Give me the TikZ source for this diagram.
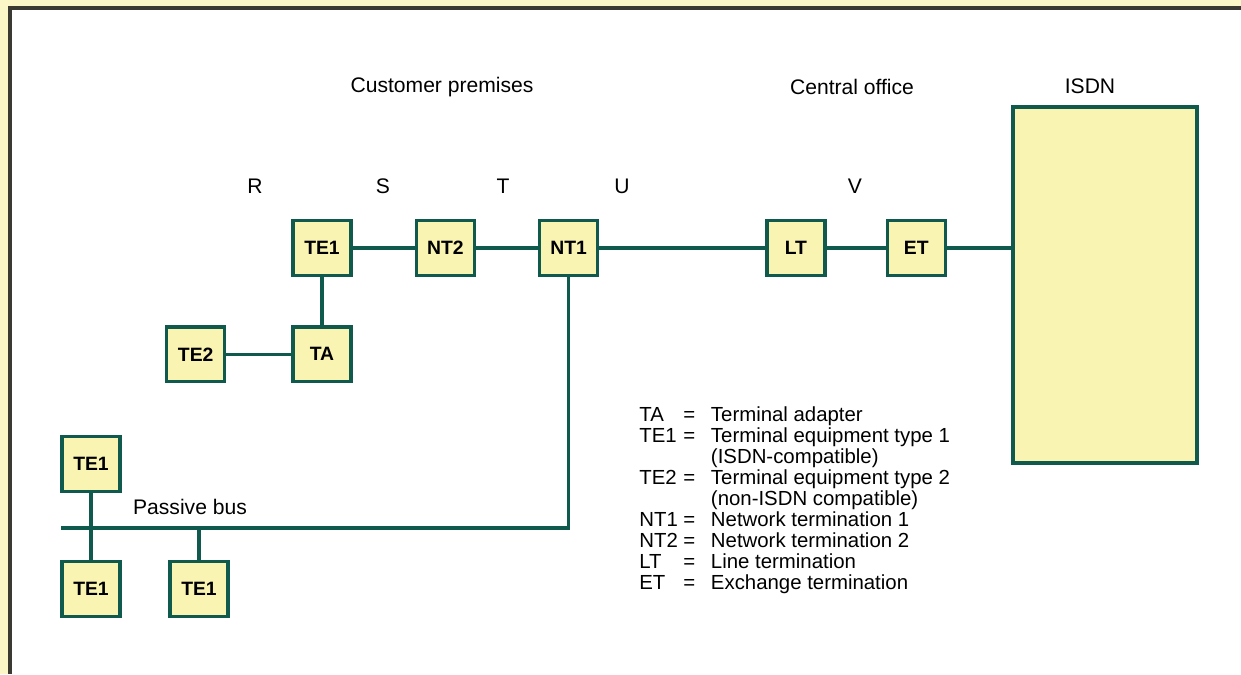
\documentclass[tikz,border=0pt]{standalone}
\usepackage{fontspec}
\setmainfont{Liberation Sans}
\usetikzlibrary{positioning}
\definecolor{pagebg}{HTML}{FBF7C6}
\definecolor{boxfill}{HTML}{FAF4B2}
\definecolor{linegreen}{HTML}{10594D}
\definecolor{framegrey}{HTML}{3A3A32}
\tikzstyle{unit} = [rectangle, draw=linegreen, line width=1.9pt, fill=boxfill, minimum width=1.16cm, minimum height=1.1cm, inner sep=0pt, font=\fontsize{11}{13}\selectfont\bfseries]
\tikzstyle{link} = [draw=linegreen, line width=1.9pt]
\tikzstyle{refpt} = [font=\fontsize{12}{14}\selectfont]

\begin{document}
\begin{tikzpicture}[x=0.02cm, y=-0.02cm, node distance=1.24cm]
\useasboundingbox (0,0) rectangle (1241,674);
\fill[pagebg] (0,0) rectangle (1241,674);
\fill[white] (10,8) rectangle (1241,674);
\draw[framegrey, line width=2pt] (1241,8) -- (10,8) -- (10,674);

% headings and reference points
\node[refpt] (cust) at (442,87) {Customer premises};
\node[refpt] (central) at (852,87) {Central office};
\node[refpt] (isdnlbl) at (1090,86) {ISDN};
\node[refpt] (ptR) at (255,186) {R};
\node[refpt] (ptS) at (383,186) {S};
\node[refpt] (ptT) at (503,186) {T};
\node[refpt] (ptU) at (622,186) {U};
\node[refpt] (ptV) at (855,186) {V};

% main chain
\node[unit] (te1) at (322,248) {TE1};
\node[unit, right=of te1] (nt2) {NT2};
\node[unit, right=of nt2] (nt1) {NT1};
\node[unit, right=3.32cm of nt1] (lt) {LT};
\node[unit, right=1.18cm of lt] (et) {ET};
\node[unit, below=0.96cm of te1] (ta) {TA};
\node[unit, left=1.3cm of ta] (te2) {TE2};
\draw[link, fill=boxfill] (1013,107) rectangle (1197,463);
\coordinate (isdn) at (1013,248);

% passive bus
\node[unit] (busTE1a) at (91,464) {TE1};
\node[unit] (busTE1b) at (91,589) {TE1};
\node[unit] (busTE1c) at (199,589) {TE1};
\coordinate (busL) at (61,528);
\node[refpt] (busname) at (190,507) {Passive bus};

\draw[link] (te1) -- (nt2);
\draw[link] (nt2) -- (nt1);
\draw[link] (nt1) -- (lt);
\draw[link] (lt) -- (et);
\draw[link] (et) -- (et -| isdn);
\draw[link] (te1) -- (ta);
\draw[link] (te2) -- (ta);
\draw[link] (nt1) -- (nt1 |- busL) -- (busL);
\draw[link] (busTE1a) -- (busTE1b);
\draw[link] (busTE1c) -- (busTE1c |- busL);

% legend
\node[anchor=north west, inner sep=0pt, font=\fontsize{11.6}{11.9}\selectfont] (legend) at (639,406) {%
\begin{tabular}{@{}p{25pt}@{}c@{\hspace{9pt}}l@{}}
TA & = & Terminal adapter\\
TE1 & = & Terminal equipment type 1\\
 & & (ISDN-compatible)\\
TE2 & = & Terminal equipment type 2\\
 & & (non-ISDN compatible)\\
NT1 & = & Network termination 1\\
NT2 & = & Network termination 2\\
LT & = & Line termination\\
ET & = & Exchange termination
\end{tabular}};
\end{tikzpicture}
\end{document}
